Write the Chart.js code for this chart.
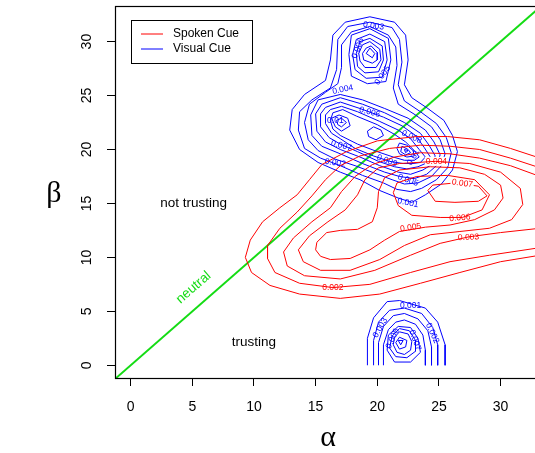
<!DOCTYPE html>
<html>
<head>
<meta charset="utf-8">
<script src="https://cdn.jsdelivr.net/npm/chart.js@4.4.0/dist/chart.umd.min.js"></script>
<style>
html, body { margin: 0; padding: 0; background: #fff; overflow: hidden; }
canvas { display: block; }
</style>
</head>
<body>
<canvas id="myChart" width="548" height="453"></canvas>
<script>
// axis ranges and ticks (alpha across, beta up)
const alphaRange = [-1.27, 33.44];
const betaRange = [-1.18, 33.3];
const tickValues = [0, 5, 10, 15, 20, 25, 30];

// Spoken cue density contours, [alpha, beta] points
const spoken001 = [[33.2,19.2],[30.8,20.1],[28.3,20.9],[25.7,21.2],[23.2,21.2],[20.0,20.8],[17.5,19.8],[15.5,18.6],[14.5,17.2],[13.5,15.8],[12.1,14.6],[10.7,13.3],[9.7,11.6],[9.3,10.0],[9.8,8.6],[11.3,7.4],[13.7,6.6],[17.0,6.2],[20.2,6.6],[23.5,7.6],[26.7,8.6],[30.0,9.6],[33.2,10.2]];
const spoken002 = [[33.2,18.3],[30.8,19.2],[28.3,20.0],[25.9,20.3],[23.5,20.4],[21.0,20.1],[18.6,19.4],[17.0,18.5],[15.8,17.2],[14.7,15.7],[13.5,14.2],[12.1,12.7],[11.1,11.1],[11.1,9.9],[11.7,8.6],[13.7,7.6],[16.4,7.2],[19.4,7.5],[22.7,8.6],[25.9,9.6],[29.1,10.2],[33.2,10.9]];
const spoken003 = [[33.2,17.5],[30.8,18.5],[28.3,19.2],[25.9,19.6],[23.5,19.7],[21.4,19.3],[19.6,18.6],[18.2,17.5],[17.1,16.1],[16.2,14.6],[14.7,13.3],[13.2,11.8],[12.4,10.5],[12.7,9.2],[14.1,8.3],[17.0,8.0],[19.8,8.8],[22.7,10.2],[25.1,11.3],[27.4,11.9],[30.0,12.3],[33.2,12.7]];
const spoken004 = [[13.6,10.7],[14.5,12.0],[16.0,13.3],[17.4,14.4],[18.4,15.8],[19.0,17.2],[20.1,18.3],[21.8,18.7],[24.7,18.9],[27.5,18.7],[30.0,17.9],[31.6,16.4],[31.8,14.9],[30.9,13.5],[29.1,12.7],[26.7,12.4],[24.3,12.1],[22.2,11.1],[20.2,9.8],[17.8,8.8],[15.4,8.8],[14.0,9.6]];
const spoken005 = [[15.0,10.7],[15.1,11.4],[15.9,12.3],[17.0,12.5],[18.4,12.6],[19.6,13.3],[20.0,14.6],[20.1,16.1],[20.6,17.4],[21.8,18.1],[24.3,18.4],[26.7,18.3],[28.7,17.7],[30.0,16.7],[30.2,15.5],[29.5,14.4],[27.9,13.5],[25.9,13.0],[23.9,12.8],[21.8,12.4],[20.6,11.6],[19.4,10.7],[17.8,9.9],[16.2,9.8],[15.4,10.1]];
const spoken006 = [[21.3,16.0],[21.6,16.9],[23.2,17.5],[25.7,17.6],[27.9,17.2],[29.1,15.8],[28.5,14.4],[26.9,13.7],[25.1,13.7],[22.8,13.9],[21.7,14.8]];
const spoken007 = [[24.1,16.2],[24.5,16.7],[26.3,16.9],[28.2,16.6],[28.9,15.7],[28.2,15.2],[26.3,15.1],[24.7,15.2]];
const spokenLines = [spoken001, spoken002, spoken003, spoken004, spoken005, spoken006, spoken007];
const spokenOpen = [spoken001, spoken002, spoken003];

// Visual cue density contours
const visualOuter1 = [[17.4,31.8],[19.4,32.3],[21.4,31.8],[22.3,30.6],[22.5,28.3],[22.2,26.0],[22.8,24.8],[24.1,23.8],[25.4,22.7],[26.1,21.3],[26.5,19.8],[26.1,18.1],[25.2,16.8],[23.9,15.8],[22.8,15.1],[21.7,15.5],[20.2,16.2],[18.6,17.2],[17.0,17.9],[15.2,18.8],[13.7,20.0],[12.9,21.8],[13.1,23.7],[14.1,25.1],[15.8,26.4],[16.2,28.3],[16.4,30.6]];
const visualOuter2 = [[17.6,31.4],[19.4,31.8],[21.2,31.3],[21.8,30.2],[22.0,28.1],[21.7,26.0],[22.2,24.5],[23.5,23.5],[24.8,22.4],[25.6,21.1],[26.0,19.7],[25.7,18.3],[24.8,17.2],[23.6,16.4],[22.7,16.1],[21.6,16.3],[20.5,16.9],[18.8,17.6],[17.0,18.5],[15.4,19.2],[14.1,20.1],[13.6,21.8],[13.7,23.5],[14.7,24.6],[16.2,25.7],[16.7,27.4],[16.8,30.2]];
const visualOuter3 = [[17.9,30.9],[19.4,31.4],[20.9,30.6],[21.5,29.5],[21.6,27.8],[21.3,25.7],[21.7,24.2],[23.1,23.2],[24.4,22.1],[25.1,20.9],[25.5,19.6],[25.2,18.5],[24.4,17.5],[23.3,16.9],[22.2,16.8],[21.2,17.2],[19.8,17.8],[18.2,18.5],[16.6,19.1],[15.2,19.9],[14.4,20.9],[14.1,22.5],[14.5,24.2],[15.8,25.3],[16.8,26.1],[17.1,27.6],[17.1,29.7]];
const visualTop6 = [[17.7,28.8],[17.9,30.6],[19.4,31.2],[20.9,30.3],[21.1,28.3],[20.7,26.3],[19.2,26.1],[17.9,26.8]];
const visualTop5 = [[18.0,28.8],[18.3,30.2],[19.4,30.7],[20.6,30.0],[20.8,28.3],[20.4,26.7],[19.1,26.6],[18.2,27.4]];
const visualTop4 = [[18.3,28.9],[18.6,30.0],[19.4,30.3],[20.4,29.6],[20.5,28.3],[20.1,27.2],[19.0,27.1],[18.4,27.7]];
const visualTop3 = [[18.5,28.9],[18.8,29.7],[19.4,30.0],[20.2,29.3],[20.3,28.3],[19.9,27.6],[19.0,27.6],[18.6,28.2]];
const visualTop2 = [[18.8,28.9],[19.1,29.4],[19.5,29.6],[20.0,29.0],[20.0,28.3],[19.6,28.0],[18.9,28.3]];
const visualTop1 = [[19.1,28.9],[19.4,29.4],[19.8,28.9],[19.6,28.5]];
const visualBand4 = [[15.2,24.6],[17.0,25.1],[18.8,24.6],[20.6,23.8],[22.5,22.9],[23.9,21.8],[24.6,20.7],[25.1,19.5],[24.8,18.5],[24.0,17.7],[23.0,17.3],[21.8,17.5],[20.6,17.9],[18.8,18.7],[17.0,19.6],[15.5,20.3],[14.7,21.3],[14.6,23.2]];
const visualBand5 = [[15.5,24.2],[17.0,24.8],[18.8,24.2],[20.6,23.4],[22.2,22.5],[23.5,21.5],[24.2,20.4],[24.7,19.4],[24.4,18.6],[23.7,18.1],[22.7,17.7],[21.7,17.9],[20.2,18.5],[18.6,19.3],[17.0,20.0],[15.8,20.7],[15.1,21.7],[15.0,23.3]];
const visualBand6 = [[15.8,23.9],[17.0,24.4],[18.6,23.8],[20.5,23.0],[22.0,22.2],[23.1,21.3],[23.8,20.2],[24.3,19.3],[23.9,18.7],[23.3,18.4],[22.4,18.2],[21.4,18.4],[20.1,18.9],[18.4,19.8],[17.0,20.5],[16.1,21.1],[15.4,22.1],[15.4,23.3]];
const visualBand7 = [[16.2,23.7],[17.1,24.0],[18.4,23.5],[20.2,22.6],[21.7,21.8],[22.7,21.0],[23.4,20.0],[23.9,19.3],[23.5,18.8],[22.9,18.7],[22.1,18.7],[21.0,18.9],[19.7,19.4],[18.2,20.1],[17.0,21.0],[16.3,21.5],[15.8,22.4],[15.8,23.2]];
const visualBand8 = [[16.4,23.4],[17.2,23.7],[18.3,23.1],[20.0,22.3],[21.4,21.4],[22.3,20.7],[23.0,19.9],[23.4,19.3],[23.0,19.0],[22.2,19.0],[21.3,19.3],[20.0,19.8],[18.4,20.5],[17.0,21.3],[16.4,21.9],[16.2,22.7]];
const visualLeft9 = [[16.3,22.9],[16.9,23.2],[17.6,22.9],[17.8,22.2],[17.1,21.7],[16.6,22.1]];
const visualLeft10 = [[16.7,22.7],[17.1,22.9],[17.5,22.5],[17.1,22.1],[16.8,22.3]];
const visualMid = [[19.2,21.7],[19.7,22.1],[20.3,21.8],[20.5,21.3],[19.9,20.9],[19.3,21.2]];
const visualRight9 = [[21.8,20.6],[22.4,20.4],[22.9,19.9],[23.0,19.4],[22.4,19.3],[21.8,19.6],[21.6,20.1]];
const visualRight10 = [[22.0,20.3],[22.5,20.0],[22.7,19.7],[22.3,19.5],[21.9,19.8]];
const visualRight11 = [[22.2,20.0],[22.5,19.9],[22.3,19.7]];
const visualLow1 = [[19.2,0.0],[19.2,2.5],[19.7,4.4],[20.8,5.9],[21.8,6.0],[23.9,5.3],[24.9,4.0],[25.5,1.9],[25.5,0.0]];
const visualLow2 = [[19.7,0.0],[19.7,2.3],[20.1,4.0],[21.0,5.1],[22.2,5.3],[23.6,4.8],[24.5,3.5],[24.9,1.9],[24.9,0.0]];
const visualLow3 = [[20.1,0.0],[20.1,2.1],[20.5,3.6],[21.3,4.6],[22.2,4.8],[23.3,4.3],[24.1,3.2],[24.4,1.7],[24.4,0.0]];
const visualLow4 = [[20.5,0.0],[20.5,1.9],[20.9,3.3],[21.5,4.0],[22.2,4.2],[23.1,3.8],[23.7,2.8],[23.9,1.4],[23.9,0.0]];
const visualLow5 = [[20.8,1.4],[20.9,2.8],[21.7,3.6],[22.7,3.5],[23.3,2.5],[23.5,1.2],[22.7,0.3],[21.4,0.3]];
const visualLow6 = [[21.0,1.6],[21.2,2.7],[21.8,3.4],[22.6,3.2],[23.1,2.3],[23.1,1.3],[22.4,0.7],[21.5,0.8]];
const visualLow7 = [[21.3,1.9],[21.4,2.6],[21.8,3.1],[22.5,2.9],[22.8,2.2],[22.7,1.4],[22.2,1.0],[21.6,1.2]];
const visualLow8 = [[21.5,2.1],[21.8,2.6],[22.4,2.3],[22.3,1.7],[21.8,1.5]];
const visualLow9 = [[21.7,2.3],[22.1,2.3],[21.9,1.9]];
const visualLines = [visualOuter1, visualOuter2, visualOuter3, visualTop6, visualTop5, visualTop4, visualTop3, visualTop2, visualTop1,
  visualBand4, visualBand5, visualBand6, visualBand7, visualBand8, visualLeft9, visualLeft10, visualMid,
  visualRight9, visualRight10, visualRight11, visualLow1, visualLow2, visualLow3, visualLow4, visualLow5,
  visualLow6, visualLow7, visualLow8, visualLow9];
const visualOpen = [visualLow1, visualLow2, visualLow3, visualLow4];

// neutral line alpha = beta
const neutralLine = [[-2, -2], [35, 35]];

// contour labels: text, alpha, beta, angle
const spokenLabels = [["0.002",16.4,7.2,0],["0.003",27.4,11.9,-3],["0.005",22.7,12.8,-8],["0.006",26.7,13.7,-5],["0.007",26.9,16.9,8],["0.004",24.8,18.9,0]];
const visualLabels = [["0.003",19.7,31.5,8],["0.006",18.4,29.4,-70],["0.005",20.4,26.9,-55],["0.004",17.2,25.6,-12],["0.006",19.4,23.5,15],
  ["0.01",16.6,22.7,0],["0.007",17.1,20.4,15],["0.002",16.6,18.8,8],["0.009",20.8,19.0,20],["0.008",22.8,21.2,25],["0.01",22.9,19.3,-60],
  ["0.005",22.5,17.2,20],["0.001",22.5,15.1,12],["0.001",22.7,5.6,0],["0.003",20.2,3.5,-60],["0.002",24.5,3.0,65],["0.006",21.2,2.5,-65],["0.007",23.1,2.35,70]];

const RED = '#ff0000';
const BLUE = '#0000ff';
const GREEN = '#14dc14';
const FONT = '"Liberation Sans", Arial, Helvetica, sans-serif';

function lineSet(arr, closed, color, width) {
  const pts = arr.map(p => ({x: p[0], y: p[1]}));
  if (closed) pts.push(pts[0]);
  return {data: pts, showLine: true, borderColor: color, borderWidth: width, pointRadius: 0, pointHoverRadius: 0, tension: 0, fill: false};
}

const datasets = [];
spokenLines.forEach(c => datasets.push(lineSet(c, !spokenOpen.includes(c), RED, 1)));
const lastRed = datasets.length - 1;
visualLines.forEach(c => datasets.push(lineSet(c, !visualOpen.includes(c), BLUE, 1)));
const lastBlue = datasets.length - 1;
datasets.push(lineSet(neutralLine, false, GREEN, 2));

function drawLabels(chart, list, color) {
  const {ctx, chartArea, scales: {x, y}} = chart;
  ctx.save();
  ctx.beginPath();
  ctx.rect(chartArea.left, chartArea.top, chartArea.right - chartArea.left, chartArea.bottom - chartArea.top);
  ctx.clip();
  ctx.font = '8.5px ' + FONT;
  ctx.textAlign = 'center';
  ctx.textBaseline = 'middle';
  list.forEach(l => {
    ctx.save();
    ctx.translate(x.getPixelForValue(l[1]), y.getPixelForValue(l[2]));
    ctx.rotate(l[3] * Math.PI / 180);
    const w = ctx.measureText(l[0]).width;
    ctx.fillStyle = '#fff';
    ctx.fillRect(-w / 2 - 1, -4.5, w + 2, 9);
    ctx.fillStyle = color;
    ctx.fillText(l[0], 0, 0.5);
    ctx.restore();
  });
  ctx.restore();
}

const decor = {
  id: 'decor',
  afterDatasetDraw(chart, args) {
    if (args.index === lastRed) drawLabels(chart, spokenLabels, RED);
    if (args.index === lastBlue) drawLabels(chart, visualLabels, BLUE);
  },
  afterDraw(chart) {
    const {ctx, chartArea: a, scales: {x, y}} = chart;
    ctx.save();
    // plot box
    ctx.strokeStyle = '#000';
    ctx.lineWidth = 1.2;
    ctx.strokeRect(a.left + 0.5, a.top + 0.5, a.right - a.left, a.bottom - a.top);

    // annotations
    ctx.fillStyle = '#000';
    ctx.font = '13.5px ' + FONT;
    ctx.textAlign = 'center';
    ctx.textBaseline = 'middle';
    ctx.fillText('not trusting', x.getPixelForValue(5.1), y.getPixelForValue(15.0));
    ctx.fillText('trusting', x.getPixelForValue(10.0), y.getPixelForValue(2.1));
    ctx.save();
    ctx.translate(x.getPixelForValue(5.1), y.getPixelForValue(7.2));
    ctx.rotate(-41 * Math.PI / 180);
    ctx.fillStyle = GREEN;
    ctx.fillText('neutral', 0, 0);
    ctx.restore();

    // legend
    const lx = a.left + 16, ly = a.top + 14;
    ctx.fillStyle = '#fff';
    ctx.fillRect(lx, ly, 121, 43);
    ctx.lineWidth = 1;
    ctx.strokeStyle = '#000';
    ctx.strokeRect(lx + 0.5, ly + 0.5, 121, 43);
    ctx.lineWidth = 1;
    ctx.strokeStyle = RED;
    ctx.beginPath(); ctx.moveTo(lx + 10, ly + 14); ctx.lineTo(lx + 32, ly + 14); ctx.stroke();
    ctx.strokeStyle = BLUE;
    ctx.beginPath(); ctx.moveTo(lx + 10, ly + 29); ctx.lineTo(lx + 32, ly + 29); ctx.stroke();
    ctx.fillStyle = '#000';
    ctx.font = '12px ' + FONT;
    ctx.textAlign = 'left';
    ctx.fillText('Spoken Cue', lx + 42, ly + 14);
    ctx.fillText('Visual Cue', lx + 42, ly + 29);

    // axis symbols
    ctx.font = '30px "Liberation Serif", "DejaVu Serif", serif';
    ctx.textAlign = 'center';
    ctx.textBaseline = 'alphabetic';
    ctx.fillText('\u03b1', (a.left + a.right) / 2 - 1, a.bottom + 68);
    ctx.fillText('\u03b2', a.left - 61, (a.top + a.bottom) / 2 + 10);
    ctx.restore();
  }
};

const ctx = document.getElementById('myChart').getContext('2d');
const myChart = new Chart(ctx, {
  type: 'scatter',
  data: { datasets: datasets },
  options: {
    responsive: false,
    animation: false,
    layout: { padding: { top: 6, right: 5, left: 0, bottom: 0 } },
    plugins: { legend: { display: false }, tooltip: { enabled: false } },
    scales: {
      x: {
        type: 'linear', position: 'bottom',
        min: alphaRange[0], max: alphaRange[1],
        afterBuildTicks: s => { s.ticks = tickValues.map(v => ({value: v})); },
        afterFit: s => { s.height = 75; s.paddingLeft = 0; s.paddingRight = 0; s.paddingTop = 0; s.paddingBottom = 0; },
        grid: { drawOnChartArea: false, drawTicks: true, tickLength: 8, color: '#000' },
        border: { display: false },
        ticks: { color: '#000', padding: 13, maxRotation: 0, font: { family: FONT, size: 14 } }
      },
      y: {
        type: 'linear', position: 'left',
        min: betaRange[0], max: betaRange[1],
        afterBuildTicks: s => { s.ticks = tickValues.map(v => ({value: v})); },
        afterFit: s => { s.width = 115; s.paddingLeft = 0; s.paddingRight = 0; s.paddingTop = 0; s.paddingBottom = 0; },
        grid: { drawOnChartArea: false, drawTicks: true, tickLength: 8, color: '#000' },
        border: { display: false },
        ticks: { color: '#000', padding: 12, minRotation: 90, maxRotation: 90, crossAlign: 'center', font: { family: FONT, size: 14 } }
      }
    }
  },
  plugins: [decor]
});
</script>
</body>
</html>
